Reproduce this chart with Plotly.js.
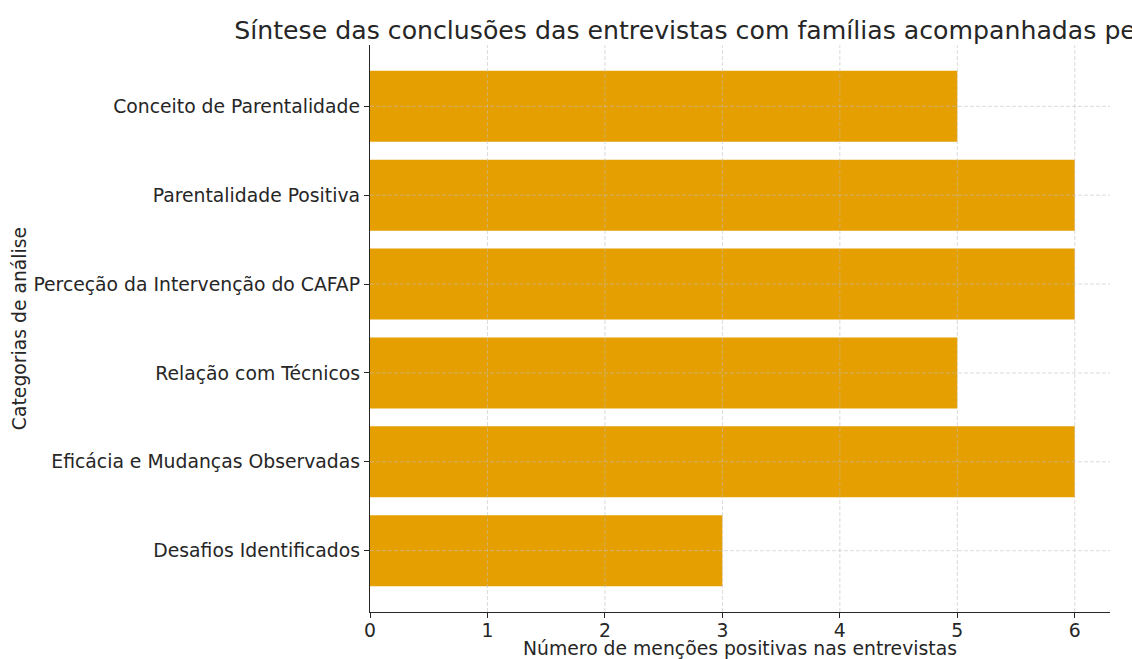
<!DOCTYPE html>
<html>
<head>
<meta charset="utf-8">
<script src="https://cdn.plot.ly/plotly-3.0.1.min.js"></script>
<style>html,body{margin:0;padding:0;background:#fff;}#chart{width:1132px;height:659px;}</style>
</head>
<body>
<div id="chart"></div>
<script>
const categories = [
  "Conceito de Parentalidade",
  "Parentalidade Positiva",
  "Perceção da Intervenção do CAFAP",
  "Relação com Técnicos",
  "Eficácia e Mudanças Observadas",
  "Desafios Identificados"
];
const mentions = [5, 6, 6, 5, 6, 3];
const xTicks = [0, 1, 2, 3, 4, 5, 6];

const gridStyle = {color: 'rgba(190,190,190,0.55)', width: 1, dash: '4px,2px'};
const gridShapes = [];
xTicks.slice(1).forEach(v => gridShapes.push({
  type: 'line', xref: 'x', yref: 'paper', x0: v, x1: v, y0: 0, y1: 1,
  line: gridStyle, layer: 'above'
}));
categories.forEach(c => gridShapes.push({
  type: 'line', xref: 'paper', yref: 'y', x0: 0, x1: 1, y0: c, y1: c,
  line: gridStyle, layer: 'above'
}));

const trace = {
  type: 'bar', orientation: 'h', x: mentions, y: categories,
  width: 0.8, marker: {color: '#E69F00', line: {width: 0}},
  hoverinfo: 'x+y'
};

const layout = {
  width: 1132, height: 659,
  margin: {l: 370, r: 22, t: 45, b: 47},
  paper_bgcolor: '#fff', plot_bgcolor: '#fff',
  font: {family: 'DejaVu Sans', color: '#262626', size: 18.8},
  title: {
    text: 'Síntese das conclusões das entrevistas com famílias acompanhadas pelo CAFAP',
    font: {size: 25.2, family: 'DejaVu Sans', color: '#262626'},
    x: 0.5, xref: 'paper', xanchor: 'center', y: 1, yref: 'paper', yanchor: 'bottom',
    pad: {b: 6}
  },
  xaxis: {
    range: [0, 6.3], tickvals: xTicks, ticktext: xTicks.map(String),
    showgrid: false, zeroline: false,
    showline: true, linecolor: '#262626', linewidth: 1.2,
    ticks: 'outside', ticklen: 5, tickcolor: '#262626',
    tickfont: {size: 18.8}, ticklabelstandoff: -4,
    title: {text: 'Número de menções positivas nas entrevistas', font: {size: 18.8}, standoff: 7}
  },
  yaxis: {
    type: 'category', autorange: false, range: [5.69, -0.69],
    categoryorder: 'array', categoryarray: categories,
    showgrid: false, zeroline: false,
    showline: true, linecolor: '#262626', linewidth: 1.2,
    ticks: 'outside', ticklen: 5, tickcolor: '#262626',
    tickfont: {size: 18.8},
    title: {text: 'Categorias de análise', font: {size: 18.8}, standoff: 1}
  },
  shapes: gridShapes,
  showlegend: false
};

Plotly.newPlot('chart', [trace], layout, {displayModeBar: false, staticPlot: true});
</script>
</body>
</html>
